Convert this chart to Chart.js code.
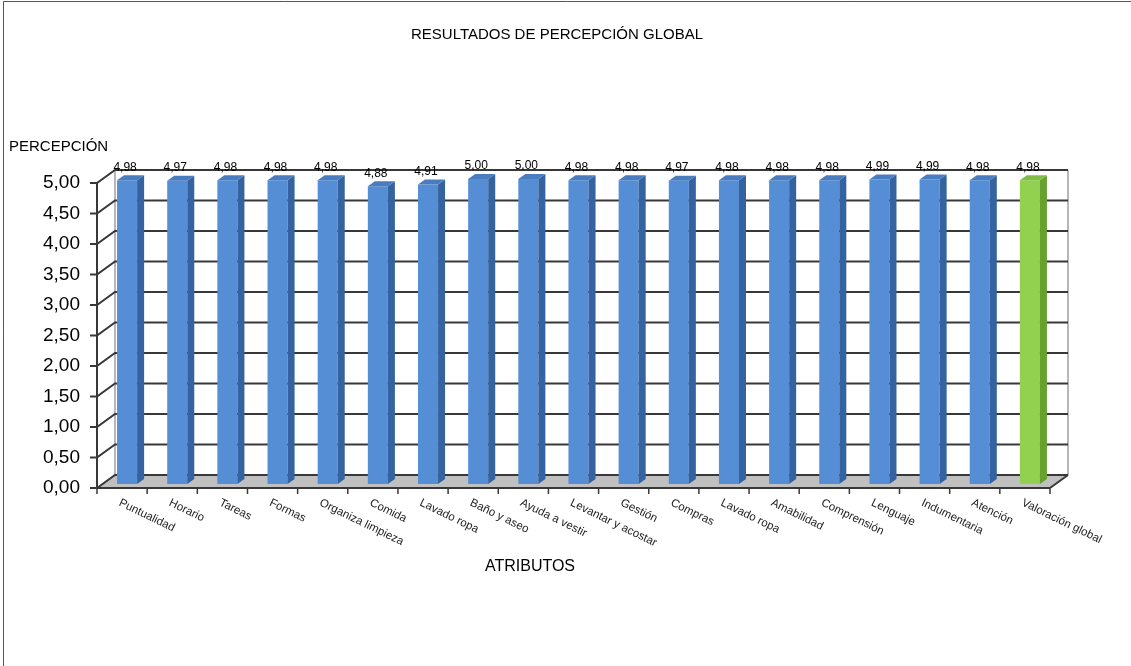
<!DOCTYPE html>
<html>
<head>
<meta charset="utf-8">
<script src="https://cdn.jsdelivr.net/npm/chart.js@4/dist/chart.umd.min.js"></script>
<style>
    html, body { margin: 0; padding: 0; background: #fff; }
    #wrap { width: 1131px; height: 666px; position: relative; }
</style>
</head>
<body>
<div id="wrap"><canvas id="chart" width="1131" height="666"></canvas></div>
<script>
// Chart data
const categories = ['Puntualidad', 'Horario', 'Tareas', 'Formas', 'Organiza limpieza', 'Comida',
    'Lavado ropa', 'Baño y aseo', 'Ayuda a vestir', 'Levantar y acostar', 'Gestión', 'Compras',
    'Lavado ropa', 'Amabilidad', 'Comprensión', 'Lenguaje', 'Indumentaria', 'Atención', 'Valoración global'];
const values = [4.98, 4.97, 4.98, 4.98, 4.98, 4.88, 4.91, 5.00, 5.00, 4.98, 4.98, 4.97, 4.98, 4.98, 4.98, 4.99, 4.99, 4.98, 4.98];
const yTicks = [0, 0.5, 1, 1.5, 2, 2.5, 3, 3.5, 4, 4.5, 5];

const chartTitle = 'RESULTADOS DE PERCEPCIÓN GLOBAL';
const yTitle = 'PERCEPCIÓN';
const xTitle = 'ATRIBUTOS';

// 3D look
const DEPTH_X = 18, DEPTH_Y = 13;     // back wall offset
const BAR_SHIFT_X = 5, BAR_SHIFT_Y = 4; // bars sit a bit inside the box
const BAR_DX = 7, BAR_DY = 5;           // bar depth

const BLUE = '#558ed5', BLUE_SIDE = '#34639f', BLUE_TOP = '#4a7cc0';
const GREEN = '#92d050', GREEN_SIDE = '#67a230', GREEN_TOP = '#7fbd43';
const LINE = '#383838';
const FONT = '"Liberation Sans", Arial, sans-serif';

const isLast = i => i === values.length - 1;

function fmt(v) {
    return v.toFixed(2).replace('.', ',');
}

// Back wall, floor, gridlines, 3D bar faces and texts
const boxPlugin = {
    id: 'box',
    beforeDatasetsDraw(chart) {
        const ctx = chart.ctx;
        const a = chart.chartArea;
        const y = chart.scales.y;
        const x = chart.scales.x;
        const y0 = y.getPixelForValue(0);
        const yTop = y.getPixelForValue(5);
        ctx.save();
        // floor
        ctx.fillStyle = '#c0c0c0';
        ctx.beginPath();
        ctx.moveTo(a.left, y0);
        ctx.lineTo(a.left + DEPTH_X, y0 - DEPTH_Y);
        ctx.lineTo(a.right + DEPTH_X, y0 - DEPTH_Y);
        ctx.lineTo(a.right, y0);
        ctx.closePath();
        ctx.fill();

        // back wall edges
        ctx.strokeStyle = '#a0a0a0';
        ctx.lineWidth = 1.5;
        ctx.beginPath();
        ctx.moveTo(a.left + DEPTH_X, yTop - DEPTH_Y);
        ctx.lineTo(a.left + DEPTH_X, y0 - DEPTH_Y);
        ctx.moveTo(a.right + DEPTH_X, yTop - DEPTH_Y);
        ctx.lineTo(a.right + DEPTH_X, y0 - DEPTH_Y);
        ctx.stroke();

        ctx.strokeStyle = LINE;
        ctx.lineWidth = 2;
        yTicks.forEach(v => {
            const py = y.getPixelForValue(v);
            ctx.beginPath();
            ctx.moveTo(a.left - 7, py);
            ctx.lineTo(a.left, py);
            ctx.lineTo(a.left + DEPTH_X, py - DEPTH_Y);
            ctx.lineTo(a.right + DEPTH_X, py - DEPTH_Y);
            ctx.stroke();
        });
        // floor right edge
        ctx.beginPath();
        ctx.moveTo(a.right, y0);
        ctx.lineTo(a.right + DEPTH_X, y0 - DEPTH_Y);
        ctx.stroke();
        // front axes
        ctx.beginPath();
        ctx.moveTo(a.left, yTop);
        ctx.lineTo(a.left, y0);
        ctx.lineTo(a.right, y0);
        ctx.stroke();
        // category tick marks
        const half = (x.getPixelForValue(1) - x.getPixelForValue(0)) / 2;
        ctx.lineWidth = 1.5;
        for (let i = 0; i <= categories.length; i++) {
            const px = x.getPixelForValue(i) - half;
            ctx.beginPath();
            ctx.moveTo(px, y0);
            ctx.lineTo(px, y0 + 6);
            ctx.stroke();
        }
        ctx.restore();

        // shift bars into the box
        ctx.save();
        ctx.translate(BAR_SHIFT_X, -BAR_SHIFT_Y);
    },
    afterDatasetsDraw(chart) {
        const ctx = chart.ctx;
        const meta = chart.getDatasetMeta(0);
        // side and top faces
        meta.data.forEach((bar, i) => {
            const p = bar.getProps(['x', 'y', 'base', 'width'], true);
            const l = p.x - p.width / 2, r = p.x + p.width / 2;
            ctx.fillStyle = isLast(i) ? GREEN_SIDE : BLUE_SIDE;
            ctx.beginPath();
            ctx.moveTo(r, p.y);
            ctx.lineTo(r + BAR_DX, p.y - BAR_DY);
            ctx.lineTo(r + BAR_DX, p.base - BAR_DY);
            ctx.lineTo(r, p.base);
            ctx.closePath();
            ctx.fill();
            ctx.fillStyle = isLast(i) ? GREEN_TOP : BLUE_TOP;
            ctx.beginPath();
            ctx.moveTo(l, p.y);
            ctx.lineTo(l + BAR_DX, p.y - BAR_DY);
            ctx.lineTo(r + BAR_DX, p.y - BAR_DY);
            ctx.lineTo(r, p.y);
            ctx.closePath();
            ctx.fill();
        });
        ctx.restore();

        // value labels
        ctx.save();
        ctx.fillStyle = '#000';
        ctx.font = '12px ' + FONT;
        ctx.textAlign = 'center';
        ctx.textBaseline = 'bottom';
        meta.data.forEach((bar, i) => {
            ctx.fillText(fmt(values[i]), bar.x + 3, bar.y - 11);
        });
        ctx.restore();
    },
    afterDraw(chart) {
        const ctx = chart.ctx;
        const x = chart.scales.x;
        const y0 = chart.scales.y.getPixelForValue(0);
        ctx.save();
        // rotated category labels
        ctx.fillStyle = '#222';
        ctx.font = '11.5px ' + FONT;
        ctx.textAlign = 'left';
        ctx.textBaseline = 'top';
        categories.forEach((c, i) => {
            ctx.save();
            ctx.translate(x.getPixelForValue(i), y0 + 9);
            ctx.rotate(26 * Math.PI / 180);
            ctx.fillText(c, 0, 0);
            ctx.restore();
        });
        // titles
        ctx.fillStyle = '#000';
        ctx.textBaseline = 'middle';
        ctx.font = '15px ' + FONT;
        ctx.textAlign = 'center';
        ctx.fillText(chartTitle, 557, 35);
        ctx.textAlign = 'left';
        ctx.fillText(yTitle, 9, 147);
        ctx.font = '16px ' + FONT;
        ctx.textAlign = 'center';
        ctx.fillText(xTitle, 530, 567);
        // frame
        ctx.strokeStyle = '#555';
        ctx.lineWidth = 1;
        ctx.beginPath();
        ctx.moveTo(3.5, 666);
        ctx.lineTo(3.5, 1.5);
        ctx.lineTo(1131, 1.5);
        ctx.stroke();
        ctx.restore();
    }
};

new Chart(document.getElementById('chart'), {
    type: 'bar',
    data: {
        labels: categories,
        datasets: [{
            label: 'Percepción',
            data: values,
            backgroundColor: values.map((v, i) => isLast(i) ? GREEN : BLUE),
            borderWidth: 0,
            barPercentage: 0.4,
            categoryPercentage: 1.0
        }]
    },
    options: {
        responsive: false,
        animation: false,
        layout: {
            padding: { left: 0, right: 81, top: 183, bottom: 178 }
        },
        plugins: {
            legend: { display: false },
            title: { display: false },
            tooltip: { enabled: false }
        },
        scales: {
            x: {
                display: false,
                ticks: { autoSkip: false }
            },
            y: {
                min: 0,
                max: 5,
                afterFit: (scale) => { scale.width = 97; },
                afterBuildTicks: (scale) => { scale.ticks = yTicks.map(v => ({ value: v })); },
                grid: { display: false, drawTicks: false },
                border: { display: false },
                ticks: {
                    padding: 17,
                    color: '#000',
                    font: { size: 19, family: FONT },
                    callback: (v) => fmt(v)
                }
            }
        }
    },
    plugins: [boxPlugin]
});
</script>
</body>
</html>
